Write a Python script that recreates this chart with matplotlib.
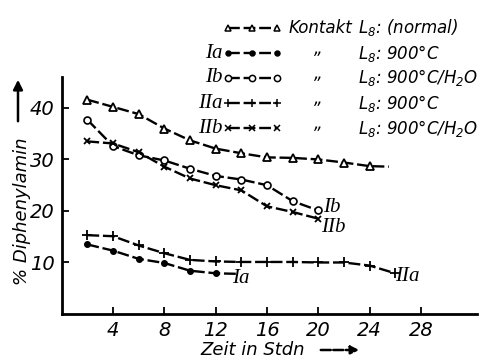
import matplotlib
matplotlib.use("Agg")
import matplotlib.pyplot as plt
from matplotlib.lines import Line2D
from matplotlib import font_manager

# ---------------- data ----------------
hours_kontakt = [2, 4, 6, 8, 10, 12, 14, 16, 18, 20, 22, 24, 25.5]
kontakt = [41.6, 40.2, 38.8, 36.0, 33.7, 32.1, 31.2, 30.4, 30.3, 30.0, 29.4, 28.7, 28.6]

hours_Ia = [2, 4, 6, 8, 10, 12, 13.6]
Ia = [13.5, 12.3, 10.7, 9.9, 8.4, 7.9, 7.8]

hours_Ib = [2, 4, 6, 8, 10, 12, 14, 16, 18, 20]
Ib = [37.7, 32.6, 30.8, 29.8, 28.2, 26.8, 26.1, 25.0, 21.9, 20.1]

hours_IIa = [2, 4, 6, 8, 10, 12, 14, 16, 18, 20, 22, 24, 26]
IIa = [15.3, 15.1, 13.3, 11.8, 10.5, 10.2, 10.1, 10.1, 10.1, 10.0, 10.0, 9.4, 7.9]

hours_IIb = [2, 4, 6, 8, 10, 12, 14, 16, 18, 20]
IIb = [33.5, 33.1, 31.4, 28.6, 26.3, 25.0, 24.0, 20.9, 19.8, 18.5]

xticks = [4, 8, 12, 16, 20, 24, 28]
yticks = [10, 20, 30, 40]

# ---------------- fonts ----------------
names = {f.name for f in font_manager.fontManager.ttflist}
sans = "Liberation Sans Narrow" if "Liberation Sans Narrow" in names else "DejaVu Sans"
serif = "Liberation Serif" if "Liberation Serif" in names else "DejaVu Serif"
plt.rcParams["font.family"] = [sans, "DejaVu Sans"]
plt.rcParams["font.style"] = "italic"
plt.rcParams["mathtext.fontset"] = "custom"
plt.rcParams["mathtext.rm"] = sans + ":italic"
plt.rcParams["mathtext.it"] = sans + ":italic"
plt.rcParams["mathtext.default"] = "it"

FS = 12
W, H = 481, 360
fig = plt.figure(figsize=(W / 100, H / 100), dpi=100)
ax = fig.add_axes([61.7 / W, 1 - 314 / H, (477 - 61.7) / W, (314 - 77) / H])

ls = (0, (5, 1.6))
lw = 1.7
common = dict(color="black", linestyle=ls, linewidth=lw)
ax.plot(hours_kontakt, kontakt, marker="^", markersize=6, markerfacecolor="white",
        markeredgewidth=1.3, markevery=list(range(len(kontakt) - 1)), **common)
ax.plot(hours_Ia, Ia, marker="o", markersize=4, markevery=list(range(len(Ia) - 1)), **common)
ax.plot(hours_Ib, Ib, marker="o", markersize=5, markerfacecolor="white",
        markeredgewidth=1.2, **common)
ax.plot(hours_IIa, IIa, marker="+", markersize=7, markeredgewidth=1.3, **common)
ax.plot(hours_IIb, IIb, marker="x", markersize=5, markeredgewidth=1.3, **common)

ax.set_xlim(0, (477 - 61.7) / 12.83)
ax.set_ylim(0, 46)
for s in ("top", "right"):
    ax.spines[s].set_visible(False)
for s in ("left", "bottom"):
    ax.spines[s].set_linewidth(2)
ax.set_xticks(xticks)
ax.set_yticks(yticks)
ax.tick_params(direction="in", length=5, width=1.3, labelsize=FS + 2, pad=5)

# curve labels
lab = dict(fontsize=FS + 3, family=serif, style="italic", va="center", ha="left")
ax.text(20.4, 20.6, "Ib", **lab)
ax.text(20.2, 16.7, "IIb", **lab)
ax.text(13.3, 6.8, "Ia", **lab)
ax.text(26.0, 7.2, "IIa", **lab)

# axis labels with arrows
fig.text(22 / W, 1 - 211 / H, "% Diphenylamin", rotation=90, ha="center", va="center",
         fontsize=FS + 1)
plt.annotate("", xy=(18 / W, 1 - 77 / H), xytext=(18 / W, 1 - 124 / H),
             xycoords="figure fraction", textcoords="figure fraction",
             arrowprops=dict(arrowstyle="-|>", color="black", lw=1.8, mutation_scale=14))
fig.text(253 / W, 1 - 350 / H, "Zeit in Stdn", ha="center", va="center", fontsize=FS + 1)
plt.annotate("", xy=(362 / W, 1 - 350 / H), xytext=(318 / W, 1 - 350 / H),
             xycoords="figure fraction", textcoords="figure fraction",
             arrowprops=dict(arrowstyle="-|>", color="black", lw=1.8, mutation_scale=12,
                             linestyle=(0, (4, 1))))

# legend (hand-built)
rows = [28, 53, 78, 103, 128]
leg_names = ["", "Ia", "Ib", "IIa", "IIb"]
leg_markers = [("^", 5, "white"), ("o", 3.5, "black"), ("o", 4.5, "white"), ("+", 6, "black"), ("x", 4.5, "black")]
leg_mid = ["Kontakt", "\u201e", "\u201e", "\u201e", "\u201e"]
leg_right = [r"$L_8$: (normal)", r"$L_8$: 900°C", r"$L_8$: 900°C/H$_2$O",
             r"$L_8$: 900°C", r"$L_8$: 900°C/H$_2$O"]
for py, nm, (mk, ms, mf), mid, rt in zip(rows, leg_names, leg_markers, leg_mid, leg_right):
    fy = 1 - py / H
    xs = [228 / W, 252.5 / W, 277 / W]
    fig.add_artist(Line2D(xs, [fy] * 3, transform=fig.transFigure, color="black",
                          linestyle=ls, linewidth=lw, marker=mk, markersize=ms,
                          markerfacecolor=mf, markeredgewidth=1.1))
    if nm:
        fig.text(223 / W, fy, nm, ha="right", va="center", fontsize=FS + 3,
                 family=serif, style="italic")
    if mid == "Kontakt":
        fig.text(289 / W, fy, mid, ha="left", va="center", fontsize=FS)
    else:
        fig.text(318 / W, fy + 4 / H, mid, ha="center", va="center", fontsize=FS)
    fig.text(358 / W, fy, rt, ha="left", va="center", fontsize=FS)

fig.savefig("out.png", dpi=100)
